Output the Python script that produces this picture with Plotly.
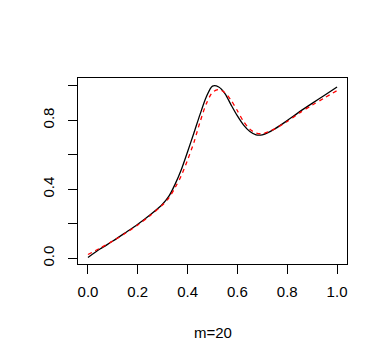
import plotly.graph_objects as go

x_vals = [0.00, 0.05, 0.10, 0.15, 0.20, 0.25, 0.30, 0.325, 0.35, 0.375,
          0.40, 0.425, 0.45, 0.475, 0.50, 0.525, 0.55, 0.575, 0.60, 0.625,
          0.65, 0.675, 0.70, 0.725, 0.75, 0.80, 0.85, 0.90, 0.95, 1.00]

true_curve = [0.005, 0.055, 0.100, 0.148, 0.197, 0.252, 0.315, 0.360, 0.430, 0.515,
              0.618, 0.725, 0.834, 0.935, 0.998, 0.993, 0.955, 0.888, 0.825, 0.772,
              0.735, 0.716, 0.716, 0.730, 0.750, 0.798, 0.850, 0.898, 0.945, 0.993]

fit_curve = [0.022, 0.060, 0.100, 0.145, 0.193, 0.248, 0.310, 0.350, 0.410, 0.480,
             0.570, 0.670, 0.790, 0.895, 0.962, 0.978, 0.960, 0.915, 0.855, 0.792,
             0.748, 0.726, 0.722, 0.733, 0.750, 0.793, 0.843, 0.888, 0.930, 0.972]

x_ticks = [0.0, 0.2, 0.4, 0.6, 0.8, 1.0]
x_labels = ["0.0", "0.2", "0.4", "0.6", "0.8", "1.0"]
y_ticks = [0.0, 0.2, 0.4, 0.6, 0.8, 1.0]
y_labels = ["0.0", "", "0.4", "", "0.8", ""]

font = "Liberation Sans, Arial, sans-serif"

fig = go.Figure()
fig.add_trace(go.Scatter(
    x=x_vals, y=true_curve, mode="lines",
    line=dict(color="black", width=1.3, shape="spline", smoothing=0.8),
))
fig.add_trace(go.Scatter(
    x=x_vals, y=fit_curve, mode="lines",
    line=dict(color="red", width=1.3, dash="4px,4px", shape="spline", smoothing=0.8),
))

axis_common = dict(
    showgrid=False,
    zeroline=False,
    showline=True,
    linecolor="black",
    linewidth=1,
    mirror=True,
    ticks="outside",
    ticklen=9,
    tickcolor="black",
    tickwidth=1,
    tickfont=dict(family=font, size=15, color="black"),
)

# page body has an 8px margin, so the figure is 8px smaller each way
fig.update_layout(
    width=379,
    height=354,
    paper_bgcolor="white",
    plot_bgcolor="white",
    showlegend=False,
    margin=dict(l=70, r=40, t=70, b=98),
    xaxis=dict(range=[-0.04, 1.04], tickvals=x_ticks, ticktext=x_labels,
               ticklabelstandoff=5, **axis_common),
    yaxis=dict(range=[-0.033, 1.045], tickvals=y_ticks, ticktext=y_labels,
               tickangle=-90, ticklabelstandoff=8, **axis_common),
    annotations=[dict(
        text="m=20", x=0.5, y=-0.3656, xref="paper", yref="paper",
        xanchor="center", yanchor="middle", showarrow=False,
        font=dict(family=font, size=15, color="black"),
    )],
)

fig.write_html("out.html")
